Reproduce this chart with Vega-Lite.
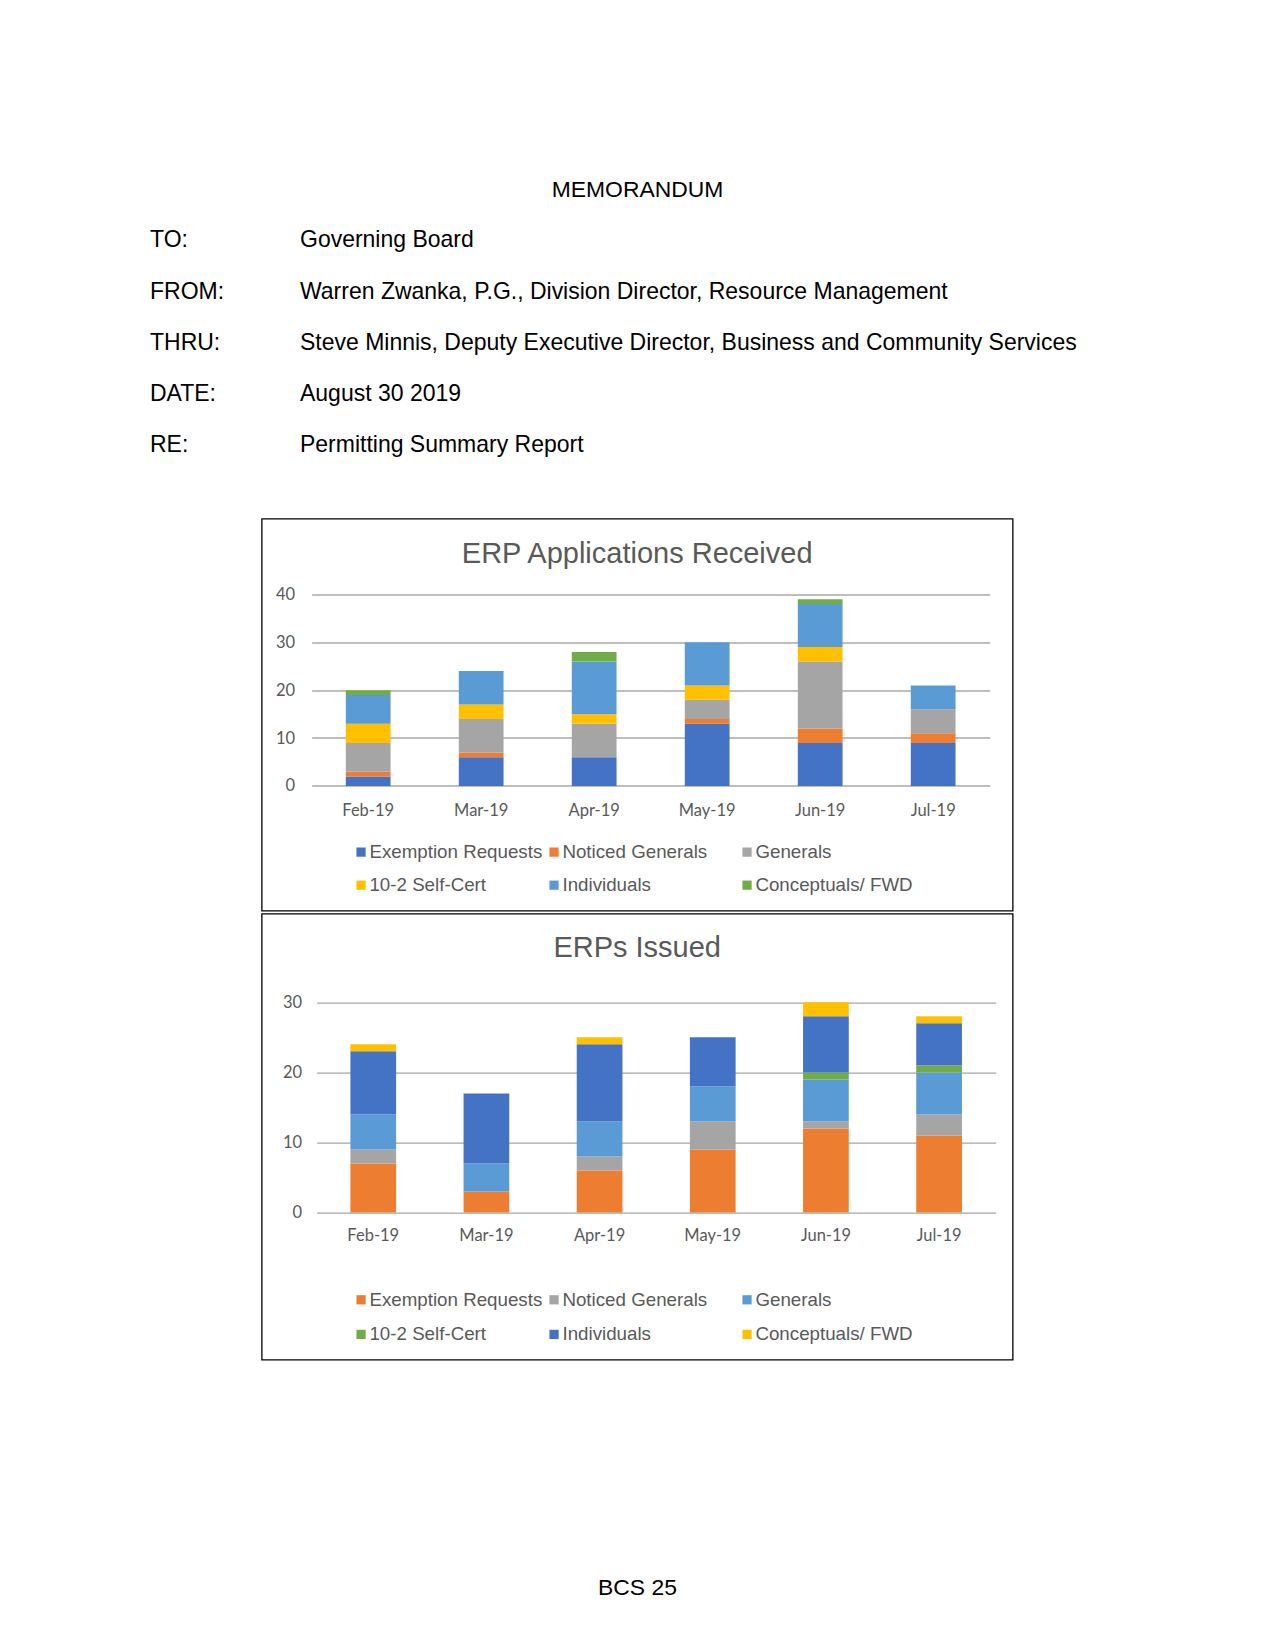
{
  "$schema": "https://vega.github.io/schema/vega-lite/v6.json",
  "background": "white",
  "padding": {"left": 150, "top": 178.6, "right": 0, "bottom": 0},
  "config": {
    "view": {"stroke": null},
    "font": "Liberation Sans"
  },
  "datasets": {
    "memo": [
      {"row": 1, "col": "label", "t": "TO:"},
      {"row": 1, "col": "value", "t": "Governing Board"},
      {"row": 2, "col": "label", "t": "FROM:"},
      {"row": 2, "col": "value", "t": "Warren Zwanka, P.G., Division Director, Resource Management"},
      {"row": 3, "col": "label", "t": "THRU:"},
      {"row": 3, "col": "value", "t": "Steve Minnis, Deputy Executive Director, Business and Community Services"},
      {"row": 4, "col": "label", "t": "DATE:"},
      {"row": 4, "col": "value", "t": "August 30 2019"},
      {"row": 5, "col": "label", "t": "RE:"},
      {"row": 5, "col": "value", "t": "Permitting Summary Report"}
    ],
    "rec": [
      {"m": "Feb-19", "s": "Exemption Requests", "i": 0, "v": 2},
      {"m": "Feb-19", "s": "Noticed Generals", "i": 1, "v": 1},
      {"m": "Feb-19", "s": "Generals", "i": 2, "v": 6},
      {"m": "Feb-19", "s": "10-2 Self-Cert", "i": 3, "v": 4},
      {"m": "Feb-19", "s": "Individuals", "i": 4, "v": 6},
      {"m": "Feb-19", "s": "Conceptuals/ FWD", "i": 5, "v": 1},
      {"m": "Mar-19", "s": "Exemption Requests", "i": 0, "v": 6},
      {"m": "Mar-19", "s": "Noticed Generals", "i": 1, "v": 1},
      {"m": "Mar-19", "s": "Generals", "i": 2, "v": 7},
      {"m": "Mar-19", "s": "10-2 Self-Cert", "i": 3, "v": 3},
      {"m": "Mar-19", "s": "Individuals", "i": 4, "v": 7},
      {"m": "Mar-19", "s": "Conceptuals/ FWD", "i": 5, "v": 0},
      {"m": "Apr-19", "s": "Exemption Requests", "i": 0, "v": 6},
      {"m": "Apr-19", "s": "Noticed Generals", "i": 1, "v": 0},
      {"m": "Apr-19", "s": "Generals", "i": 2, "v": 7},
      {"m": "Apr-19", "s": "10-2 Self-Cert", "i": 3, "v": 2},
      {"m": "Apr-19", "s": "Individuals", "i": 4, "v": 11},
      {"m": "Apr-19", "s": "Conceptuals/ FWD", "i": 5, "v": 2},
      {"m": "May-19", "s": "Exemption Requests", "i": 0, "v": 13},
      {"m": "May-19", "s": "Noticed Generals", "i": 1, "v": 1},
      {"m": "May-19", "s": "Generals", "i": 2, "v": 4},
      {"m": "May-19", "s": "10-2 Self-Cert", "i": 3, "v": 3},
      {"m": "May-19", "s": "Individuals", "i": 4, "v": 9},
      {"m": "May-19", "s": "Conceptuals/ FWD", "i": 5, "v": 0},
      {"m": "Jun-19", "s": "Exemption Requests", "i": 0, "v": 9},
      {"m": "Jun-19", "s": "Noticed Generals", "i": 1, "v": 3},
      {"m": "Jun-19", "s": "Generals", "i": 2, "v": 14},
      {"m": "Jun-19", "s": "10-2 Self-Cert", "i": 3, "v": 3},
      {"m": "Jun-19", "s": "Individuals", "i": 4, "v": 9},
      {"m": "Jun-19", "s": "Conceptuals/ FWD", "i": 5, "v": 1},
      {"m": "Jul-19", "s": "Exemption Requests", "i": 0, "v": 9},
      {"m": "Jul-19", "s": "Noticed Generals", "i": 1, "v": 2},
      {"m": "Jul-19", "s": "Generals", "i": 2, "v": 5},
      {"m": "Jul-19", "s": "10-2 Self-Cert", "i": 3, "v": 0},
      {"m": "Jul-19", "s": "Individuals", "i": 4, "v": 5},
      {"m": "Jul-19", "s": "Conceptuals/ FWD", "i": 5, "v": 0}
    ],
    "iss": [
      {"m": "Feb-19", "s": "Exemption Requests", "i": 0, "v": 7},
      {"m": "Feb-19", "s": "Noticed Generals", "i": 1, "v": 2},
      {"m": "Feb-19", "s": "Generals", "i": 2, "v": 5},
      {"m": "Feb-19", "s": "10-2 Self-Cert", "i": 3, "v": 0},
      {"m": "Feb-19", "s": "Individuals", "i": 4, "v": 9},
      {"m": "Feb-19", "s": "Conceptuals/ FWD", "i": 5, "v": 1},
      {"m": "Mar-19", "s": "Exemption Requests", "i": 0, "v": 3},
      {"m": "Mar-19", "s": "Noticed Generals", "i": 1, "v": 0},
      {"m": "Mar-19", "s": "Generals", "i": 2, "v": 4},
      {"m": "Mar-19", "s": "10-2 Self-Cert", "i": 3, "v": 0},
      {"m": "Mar-19", "s": "Individuals", "i": 4, "v": 10},
      {"m": "Mar-19", "s": "Conceptuals/ FWD", "i": 5, "v": 0},
      {"m": "Apr-19", "s": "Exemption Requests", "i": 0, "v": 6},
      {"m": "Apr-19", "s": "Noticed Generals", "i": 1, "v": 2},
      {"m": "Apr-19", "s": "Generals", "i": 2, "v": 5},
      {"m": "Apr-19", "s": "10-2 Self-Cert", "i": 3, "v": 0},
      {"m": "Apr-19", "s": "Individuals", "i": 4, "v": 11},
      {"m": "Apr-19", "s": "Conceptuals/ FWD", "i": 5, "v": 1},
      {"m": "May-19", "s": "Exemption Requests", "i": 0, "v": 9},
      {"m": "May-19", "s": "Noticed Generals", "i": 1, "v": 4},
      {"m": "May-19", "s": "Generals", "i": 2, "v": 5},
      {"m": "May-19", "s": "10-2 Self-Cert", "i": 3, "v": 0},
      {"m": "May-19", "s": "Individuals", "i": 4, "v": 7},
      {"m": "May-19", "s": "Conceptuals/ FWD", "i": 5, "v": 0},
      {"m": "Jun-19", "s": "Exemption Requests", "i": 0, "v": 12},
      {"m": "Jun-19", "s": "Noticed Generals", "i": 1, "v": 1},
      {"m": "Jun-19", "s": "Generals", "i": 2, "v": 6},
      {"m": "Jun-19", "s": "10-2 Self-Cert", "i": 3, "v": 1},
      {"m": "Jun-19", "s": "Individuals", "i": 4, "v": 8},
      {"m": "Jun-19", "s": "Conceptuals/ FWD", "i": 5, "v": 2},
      {"m": "Jul-19", "s": "Exemption Requests", "i": 0, "v": 11},
      {"m": "Jul-19", "s": "Noticed Generals", "i": 1, "v": 3},
      {"m": "Jul-19", "s": "Generals", "i": 2, "v": 6},
      {"m": "Jul-19", "s": "10-2 Self-Cert", "i": 3, "v": 1},
      {"m": "Jul-19", "s": "Individuals", "i": 4, "v": 6},
      {"m": "Jul-19", "s": "Conceptuals/ FWD", "i": 5, "v": 1}
    ]
  },
  "title": {
    "text": "BCS 25",
    "orient": "bottom",
    "anchor": "middle",
    "baseline": "top",
    "offset": 217,
    "fontSize": 22.9,
    "fontWeight": "normal",
    "font": "Liberation Sans",
    "color": "black"
  },
  "spacing": 1,
  "center": true,
  "resolve": {
    "scale": {"color": "independent", "x": "independent", "y": "independent"},
    "legend": {"color": "independent"}
  },
  "vconcat": [
    {
      "width": 975,
      "height": 302.85,
      "title": {
        "text": "MEMORANDUM",
        "anchor": "middle",
        "baseline": "top",
        "offset": 12,
        "fontSize": 22.9,
        "fontWeight": "normal",
        "font": "Liberation Sans",
        "color": "black"
      },
      "data": {"name": "memo"},
      "mark": {"type": "text", "align": "left", "baseline": "middle", "fontSize": 23, "font": "Liberation Sans", "color": "black"},
      "encoding": {
        "x": {"field": "col", "type": "nominal", "scale": {"type": "point", "domain": ["label", "value"], "range": [0, 150], "padding": 0}, "axis": null},
        "y": {"field": "row", "type": "ordinal", "scale": {"type": "band", "domain": [1, 2, 3, 4, 5], "range": [1.3, 257.3], "paddingInner": 0, "paddingOuter": 0}, "axis": null},
        "text": {"field": "t", "type": "nominal"}
      }
    },
    {
      "width": 751,
      "height": 392,
      "view": {"stroke": "black", "strokeWidth": 1.3},
      "title": {
        "text": "ERP Applications Received",
        "anchor": "middle",
        "baseline": "top",
        "offset": -50,
        "fontSize": 29,
        "fontWeight": "normal",
        "font": "Liberation Sans",
        "color": "#595959"
      },
      "data": {"name": "rec"},
      "mark": {"type": "bar"},
      "encoding": {
        "x": {
          "field": "m", "type": "ordinal", "sort": null,
          "scale": {"domain": ["Feb-19", "Mar-19", "Apr-19", "May-19", "Jun-19", "Jul-19"], "range": [50, 728], "paddingInner": 0.604, "paddingOuter": 0.302},
          "axis": {"title": null, "orient": "bottom", "offset": -124.6, "domain": false, "ticks": false, "tickSize": 0, "labelPadding": 24.6, "labelBaseline": "middle", "labelFont": "Lato", "labelFontSize": 16.5, "labelColor": "#595959", "labelAngle": 0, "grid": false}
        },
        "y": {
          "field": "v", "type": "quantitative", "stack": "zero",
          "scale": {"domain": [0, 40], "range": [267.4, 75.8], "nice": false},
          "axis": {"title": null, "orient": "left", "offset": -33, "domain": false, "ticks": false, "tickSize": 0, "labelPadding": 0, "values": [0, 10, 20, 30, 40], "labelFont": "Lato", "labelFontSize": 16.5, "labelColor": "#595959", "grid": true, "gridColor": "#A8A8A8", "gridWidth": 1.5}
        },
        "color": {
          "field": "s", "type": "nominal",
          "scale": {
            "domain": ["Exemption Requests", "Noticed Generals", "Generals", "10-2 Self-Cert", "Individuals", "Conceptuals/ FWD"],
            "range": ["#4472C4", "#ED7D31", "#A5A5A5", "#FFC000", "#5B9BD5", "#70AD47"]
          },
          "legend": {"title": null, "orient": "none", "legendX": 90, "legendY": 323.7, "direction": "horizontal", "columns": 3, "gridAlign": "all", "columnPadding": 2, "rowPadding": 13.5, "padding": 0, "symbolType": "square", "symbolSize": 85, "symbolStrokeWidth": 0, "labelOffset": -1, "labelFont": "Liberation Sans", "labelFontSize": 18.75, "labelColor": "#595959", "labelLimit": 400}
        },
        "order": {"field": "i", "type": "quantitative"}
      }
    },
    {
      "width": 751,
      "height": 446,
      "view": {"stroke": "black", "strokeWidth": 1.3},
      "title": {
        "text": "ERPs Issued",
        "anchor": "middle",
        "baseline": "top",
        "offset": -49.6,
        "fontSize": 29,
        "fontWeight": "normal",
        "font": "Liberation Sans",
        "color": "#595959"
      },
      "data": {"name": "iss"},
      "mark": {"type": "bar"},
      "encoding": {
        "x": {
          "field": "m", "type": "ordinal", "sort": null,
          "scale": {"domain": ["Feb-19", "Mar-19", "Apr-19", "May-19", "Jun-19", "Jul-19"], "range": [55, 734], "paddingInner": 0.596, "paddingOuter": 0.298},
          "axis": {"title": null, "orient": "bottom", "offset": -147, "domain": false, "ticks": false, "tickSize": 0, "labelPadding": 23, "labelBaseline": "middle", "labelFont": "Lato", "labelFontSize": 16.5, "labelColor": "#595959", "labelAngle": 0, "grid": false}
        },
        "y": {
          "field": "v", "type": "quantitative", "stack": "zero",
          "scale": {"domain": [0, 30], "range": [299, 88.7], "nice": false},
          "axis": {"title": null, "orient": "left", "offset": -40, "domain": false, "ticks": false, "tickSize": 0, "labelPadding": 0, "values": [0, 10, 20, 30], "labelFont": "Lato", "labelFontSize": 16.5, "labelColor": "#595959", "grid": true, "gridColor": "#A6A6A6", "gridWidth": 1.1}
        },
        "color": {
          "field": "s", "type": "nominal",
          "scale": {
            "domain": ["Exemption Requests", "Noticed Generals", "Generals", "10-2 Self-Cert", "Individuals", "Conceptuals/ FWD"],
            "range": ["#ED7D31", "#A5A5A5", "#5B9BD5", "#70AD47", "#4472C4", "#FFC000"]
          },
          "legend": {"title": null, "orient": "none", "legendX": 90, "legendY": 376.4, "direction": "horizontal", "columns": 3, "gridAlign": "all", "columnPadding": 2, "rowPadding": 15, "padding": 0, "symbolType": "square", "symbolSize": 85, "symbolStrokeWidth": 0, "labelOffset": -1, "labelFont": "Liberation Sans", "labelFontSize": 18.75, "labelColor": "#595959", "labelLimit": 400}
        },
        "order": {"field": "i", "type": "quantitative"}
      }
    }
  ]
}
